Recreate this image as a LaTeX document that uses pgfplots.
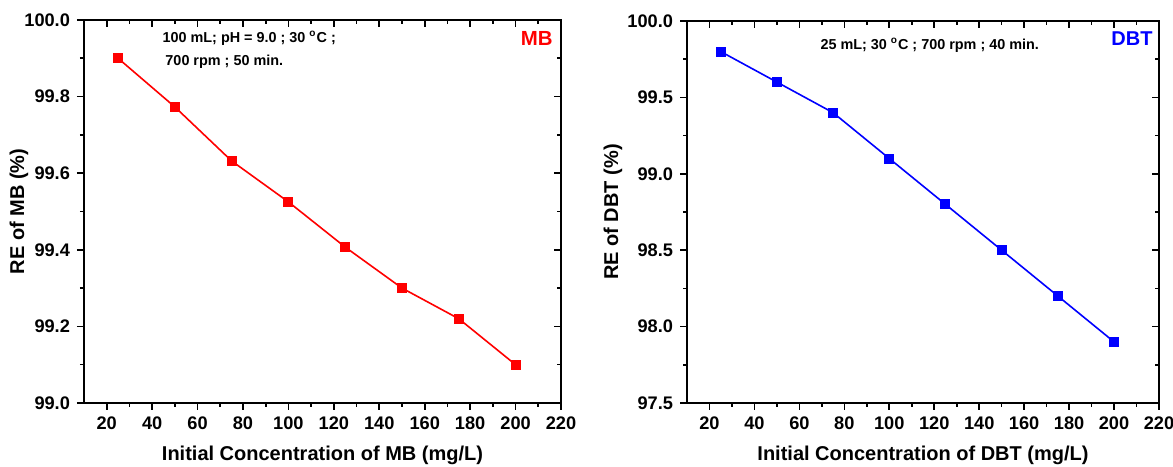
\documentclass[border=0pt]{standalone}
\usepackage{fontspec}
\setmainfont{Liberation Sans}
\usepackage{pgfplots}
\pgfplotsset{compat=1.18}
\definecolor{pred}{RGB}{255,0,0}
\definecolor{pblue}{RGB}{0,0,255}
\begin{document}
\begin{tikzpicture}
\useasboundingbox (0,0) rectangle (586.5pt,233pt);
\pgfplotsset{
  base/.style={
    scale only axis, width=238.5pt, height=191.5pt,
    xmin=10, xmax=220, xtick={20,40,...,220}, minor x tick num=1, minor y tick num=1,
    axis line style={line width=1pt},
    every tick/.style={black, line width=0.8pt},
    major tick length=3.5pt, minor tick length=2pt,
    /pgf/number format/assume math mode=true,
    ticklabel style={font=\bfseries\fontsize{9.1}{11}\selectfont},
    label style={font=\bfseries\fontsize{10}{12}\selectfont},
    clip=false,
  },
  main/.style={base, tick align=outside, xtick pos=bottom, ytick pos=left,
    yticklabel style={/pgf/number format/.cd, fixed, fixed zerofill, precision=1},
    xticklabel style={/pgf/number format/.cd, fixed, precision=0},
    xlabel style={at={(rel axis cs:0.5,0)}, anchor=center, yshift=-26pt},
  },
  mirror/.style={base, tick align=inside, xtick pos=top, ytick pos=right,
    xticklabels={}, yticklabels={}},
}
% ---------- left panel ----------
\begin{axis}[main, at={(42pt,31.5pt)}, anchor=south west,
  ymin=99.0, ymax=100.0, ytick={99.0,99.2,...,100.01},
  xlabel={Initial Concentration of MB (mg/L)},
  ylabel={RE of MB (\%)},
  ylabel style={at={(rel axis cs:0,0.5)}, anchor=center, rotate=0, yshift=32.5pt}]
\addplot[pred, line width=0.8pt, mark=square*, mark size=2.1pt, mark options={solid, fill=pred}]
 coordinates {(25,99.90) (50,99.773) (75,99.632) (100,99.525) (125,99.407) (150,99.30) (175,99.22) (200,99.10)};
\node[anchor=west, font=\bfseries\fontsize{7.2}{9}\selectfont, inner sep=0pt] at (rel axis cs:0.164,0.953) {100 mL; pH = 9.0 ; 30 \textsuperscript{o}C ;};
\node[anchor=west, font=\bfseries\fontsize{7.2}{9}\selectfont, inner sep=0pt] at (rel axis cs:0.170,0.890) {700 rpm ; 50 min.};
\node[anchor=east, text=pred, font=\bfseries\fontsize{10.2}{12}\selectfont, inner sep=0pt] at (rel axis cs:0.983,0.953) {MB};
\end{axis}
\begin{axis}[mirror, at={(42pt,31.5pt)}, anchor=south west,
  ymin=99.0, ymax=100.0, ytick={99.0,99.2,...,100.01}]
\end{axis}
% ---------- right panel ----------
\begin{axis}[main, at={(343.5pt,31.5pt)}, anchor=south west, width=236pt, height=191pt,
  ymin=97.5, ymax=100.0, ytick={97.5,98.0,...,100.01},
  xlabel={Initial Concentration of DBT (mg/L)},
  ylabel={RE of DBT (\%)},
  ylabel style={at={(rel axis cs:0,0.5)}, anchor=center, yshift=37pt}]
\addplot[pblue, line width=0.8pt, mark=square*, mark size=2.1pt, mark options={solid, fill=pblue}]
 coordinates {(25,99.80) (50,99.60) (75,99.40) (100,99.10) (125,98.80) (150,98.50) (175,98.20) (200,97.90)};
\node[anchor=west, font=\bfseries\fontsize{7.2}{9}\selectfont, inner sep=0pt] at (rel axis cs:0.282,0.937) {25 mL; 30 \textsuperscript{o}C ; 700 rpm ; 40 min.};
\node[anchor=east, text=pblue, font=\bfseries\fontsize{10}{12}\selectfont, inner sep=0pt] at (rel axis cs:0.987,0.955) {DBT};
\end{axis}
\begin{axis}[mirror, at={(343.5pt,31.5pt)}, anchor=south west, width=236pt, height=191pt,
  ymin=97.5, ymax=100.0, ytick={97.5,98.0,...,100.01}]
\end{axis}
\end{tikzpicture}
\end{document}
